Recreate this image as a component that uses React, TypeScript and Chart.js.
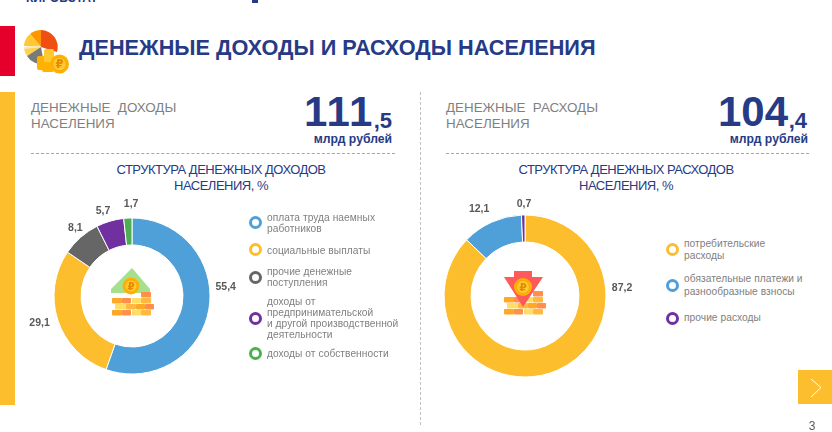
import React, { useEffect, useRef } from "react";
import { Chart, registerables } from "chart.js";

Chart.register(...registerables);

const incomeLabels = [
  "оплата труда наемных\nработников",
  "социальные выплаты",
  "прочие денежные\nпоступления",
  "доходы от\nпредпринимательской\nи другой производственной\nдеятельности",
  "доходы от собственности",
];
const incomeValues = [55.4, 29.1, 8.1, 5.7, 1.7];
const incomeColors = ["#4F9FD8", "#FDBE2D", "#666666", "#7030A0", "#4CAF50"];

const expenseLabels = [
  "потребительские\nрасходы",
  "обязательные платежи и\nразнообразные взносы",
  "прочие расходы",
];
const expenseValues = [87.2, 12.1, 0.7];
const expenseColors = ["#FDBE2D", "#4F9FD8", "#7030A0"];

const NAVY = "#263A86";
const GRAY = "#7F7F7F";
const FONT = "'Liberation Sans', Arial, sans-serif";

type Nudge = [number, number];

function fmt(v: number) {
  return v.toFixed(1).replace(".", ",");
}

function Donut(props: {
  cx: number; cy: number; r: number; hole: number; values: number[]; colors: string[]; labels: string[]; nudges: Nudge[]; labelR: number;
}) {
  const { cx, cy, r, hole, values, colors, labels, nudges, labelR } = props;
  const ref = useRef<HTMLCanvasElement>(null);
  const half = 120;
  useEffect(() => {
    const labelPlugin = {
      id: "sliceLabels",
      afterDraw(chart: any) {
        const ctx = chart.ctx;
        const meta = chart.getDatasetMeta(0);
        ctx.save();
        ctx.font = `bold 10.5px ${FONT}`;
        ctx.fillStyle = "#595959";
        ctx.textAlign = "center";
        ctx.textBaseline = "middle";
        meta.data.forEach((arc: any, i: number) => {
          const a = (arc.startAngle + arc.endAngle) / 2;
          const x = arc.x + Math.cos(a) * labelR + nudges[i][0];
          const y = arc.y + Math.sin(a) * labelR + nudges[i][1];
          ctx.fillText(fmt(values[i]), x, y);
        });
        ctx.restore();
      },
    };
    const chart = new Chart(ref.current as HTMLCanvasElement, {
      type: "doughnut",
      data: {
        labels,
        datasets: [{ data: values, backgroundColor: colors, borderColor: "#FFFFFF", borderWidth: 1 }],
      },
      options: {
        animation: false,
        responsive: false,
        radius: r,
        cutout: `${(hole / r) * 100}%`,
        layout: { padding: 0 },
        plugins: { legend: { display: false }, tooltip: { enabled: false } },
      } as any,
      plugins: [labelPlugin],
    });
    return () => chart.destroy();
  }, []);
  return (
    <canvas
      ref={ref}
      width={half * 2}
      height={half * 2}
      style={{ position: "absolute", left: cx - half, top: cy - half, width: half * 2, height: half * 2 }}
    />
  );
}

function T(props: { x?: number; right?: number; center?: number; y: number; size: number; color?: string; bold?: boolean; spacing?: number; lh?: number; children: React.ReactNode }) {
  const { x, right, center, y, size, color = GRAY, bold, spacing, lh, children } = props;
  const style: React.CSSProperties = {
    position: "absolute",
    top: y,
    fontSize: size,
    color,
    fontWeight: bold ? 700 : 400,
    fontFamily: FONT,
    letterSpacing: spacing,
    whiteSpace: "pre",
    lineHeight: lh ? `${lh}px` : 1,
    transform: center !== undefined ? "translate(-50%,-50%)" : "translateY(-50%)",
    textAlign: center !== undefined ? "center" : right !== undefined ? "right" : "left",
  };
  if (x !== undefined) style.left = x;
  if (right !== undefined) style.right = 832 - right;
  if (center !== undefined) style.left = center;
  return <div style={style}>{children}</div>;
}

function Legend(props: { labels: string[]; colors: string[]; rows: number[]; ringX: number; textX: number; lh: number }) {
  const { labels, colors, rows, ringX, textX, lh } = props;
  return (
    <>
      {labels.map((l, i) => (
        <React.Fragment key={l}>
          <div
            style={{
              position: "absolute",
              left: ringX - 6.5,
              top: rows[i] - 6.5,
              width: 13,
              height: 13,
              boxSizing: "border-box",
              borderRadius: "50%",
              border: `3px solid ${colors[i]}`,
            }}
          />
          <T x={textX} y={rows[i]} size={10.2} lh={lh} spacing={0.05} color="#808080">{l}</T>
        </React.Fragment>
      ))}
    </>
  );
}

function Bricks({ x, y }: { x: number; y: number }) {
  const rows: [number, number, string][][] = [
    [[14, 10, "#FF8F4A"]],
    [[0, 10, "#FFA726"], [10, 9, "#FF8F4A"], [20, 9, "#FFDD66"], [29, 10, "#FFB840"]],
    [[3, 11, "#FFDD66"], [14, 10, "#FFB840"], [24, 9, "#FFA726"], [33, 9, "#FF8F4A"]],
    [[0, 10, "#FFA726"], [10, 9, "#FF8F4A"], [20, 9, "#FFDD66"], [29, 10, "#FFB840"]],
  ];
  return (
    <g transform={`translate(${x} ${y})`}>
      {rows.map((r, j) =>
        r.map((b, i) => (
          <rect key={`${j}-${i}`} x={j === 0 ? 29 : b[0]} y={j * 6} width={b[1]} height={5.4} rx={0.8} fill={b[2]} />
        ))
      )}
    </g>
  );
}

function Coin({ cx, cy, r }: { cx: number; cy: number; r: number }) {
  return (
    <g>
      <circle cx={cx} cy={cy} r={r} fill="#FFB300" />
      <circle cx={cx} cy={cy} r={r * 0.72} fill="#FFC933" stroke="#F59B00" strokeWidth={0.7} />
      <text x={cx} y={cy + r * 0.42} textAnchor="middle" fontSize={r * 1.2} fontWeight="700" fill="#E68A00" fontFamily="'DejaVu Sans'">₽</text>
    </g>
  );
}

function Icons() {
  return (
    <svg width={832} height={432} style={{ position: "absolute", left: 0, top: 0 }}>
      {/* header pie with coins */}
      <path d="M41 47 L41 30 A17 17 0 0 1 57 52 Z" fill="#EF5012" />
      <path d="M41 47 L41 30 A17 17 0 0 0 30 34 Z" fill="#FF9800" />
      <path d="M41 47 L30 34 A17 17 0 0 0 24 46 Z" fill="#FFC933" />
      <path d="M41 47 L24 48 A17 17 0 0 0 27 56 Z" fill="#FFD24D" />
      <path d="M41 47 L27 56 A17 17 0 0 0 44 64 Z" fill="#7A7A7A" />
      <path d="M24 47 L41 46 L41 47 L24 49 Z" fill="#F5E6D0" />
      <rect x={37} y={56} width={12} height={14} rx={2} fill="#FFB300" />
      <rect x={44} y={49} width={10} height={20} rx={2} fill="#FFC933" />
      <rect x={42} y={62} width={12} height={10} rx={2} fill="#FFB300" />
      <Coin cx={59.5} cy={64} r={9.5} />
      {/* income centre */}
      <path d="M132 268 L150 289 L150 293 L111 293 L111 289 Z" fill="#A5E08E" />
      <rect x={111} y={293} width={20} height={6} fill="#FFFFFF" />
      <Bricks x={112} y={292} />
      <Coin cx={131} cy={286} r={8.5} />
      {/* expense centre */}
      <Bricks x={504} y={291} />
      <path d="M514 271 L532 271 L532 277 L543 277 L523 307 L504 277 L514 277 Z" fill="#FF5A5A" />
      <Coin cx={523} cy={287} r={9} />
      {/* next arrow */}
      <path d="M811 379 L821 387.5 L811 397" fill="none" stroke="#FFFFFF" strokeWidth={1} />
    </svg>
  );
}

export default function App() {
  document.body.style.margin = "0";
  const box = (left: number, top: number, width: number, height: number, background: string) => (
    <div style={{ position: "absolute", left, top, width, height, background }} />
  );
  const dash = (left: number, width: number) => (
    <div style={{ position: "absolute", left, top: 153, width, height: 0, borderTop: "1px dashed #A6A6A6" }} />
  );
  return (
    <div style={{ position: "absolute", left: 0, top: 0, width: 832, height: 432, overflow: "hidden", background: "#FFFFFF" }}>
      <T x={26} y={-2} size={12} bold color={NAVY}>КИРОВСТАТ</T>
      {box(252, 0, 6, 3, NAVY)}
      {box(0, 26, 15, 50, "#E4002B")}
      {box(0, 92, 15, 313, "#FDBE2D")}
      {box(798, 370, 34, 34, "#FDBE2D")}
      <div style={{ position: "absolute", left: 420, top: 92, height: 333, width: 0, borderLeft: "1px dashed #BFBFBF" }} />
      {dash(31, 364)}
      {dash(446, 363)}
      <T x={79} y={48} size={21.7} bold color={NAVY}>ДЕНЕЖНЫЕ ДОХОДЫ И РАСХОДЫ НАСЕЛЕНИЯ</T>

      <T x={31} y={116} size={13.4} lh={16}>{"ДЕНЕЖНЫЕ  ДОХОДЫ\nНАСЕЛЕНИЯ"}</T>
      <T x={446} y={116} size={13.4} lh={16}>{"ДЕНЕЖНЫЕ  РАСХОДЫ\nНАСЕЛЕНИЯ"}</T>

      <T x={304} y={112} size={42} bold spacing={1.5} color={NAVY}>111</T>
      <T right={392} y={121} size={22} bold color={NAVY}>,5</T>
      <T right={392} y={139} size={12.2} bold color={NAVY}>млрд рублей</T>
      <T x={718} y={112} size={42} bold color={NAVY}>104</T>
      <T right={807} y={121} size={22} bold color={NAVY}>,4</T>
      <T right={808} y={139} size={12.2} bold color={NAVY}>млрд рублей</T>

      <T center={221} y={177} size={13} lh={15.5} color={NAVY} spacing={-0.5}>{"СТРУКТУРА ДЕНЕЖНЫХ ДОХОДОВ\nНАСЕЛЕНИЯ, %"}</T>
      <T center={626} y={177} size={13} lh={15.5} color={NAVY} spacing={-0.5}>{"СТРУКТУРА ДЕНЕЖНЫХ РАСХОДОВ\nНАСЕЛЕНИЯ, %"}</T>

      <Donut
        cx={132} cy={296} r={78} hole={51}
        values={incomeValues} colors={incomeColors} labels={incomeLabels}
        labelR={92}
        nudges={[[3, -24], [-5, -2], [4, 1], [-3, 3], [4, 0]]}
      />
      <Donut
        cx={525} cy={296} r={81} hole={54}
        values={expenseValues} colors={expenseColors} labels={expenseLabels}
        labelR={92}
        nudges={[[61, -93], [-8, -3], [1, 0]]}
      />

      <Legend labels={incomeLabels} colors={incomeColors} rows={[222.5, 249.5, 277, 318, 353]} ringX={255.5} textX={267} lh={11} />
      <Legend labels={expenseLabels} colors={expenseColors} rows={[249.5, 285, 318]} ringX={672} textX={684} lh={12.5} />

      <Icons />
      <T center={812} y={426} size={12} color="#595959">3</T>
    </div>
  );
}
